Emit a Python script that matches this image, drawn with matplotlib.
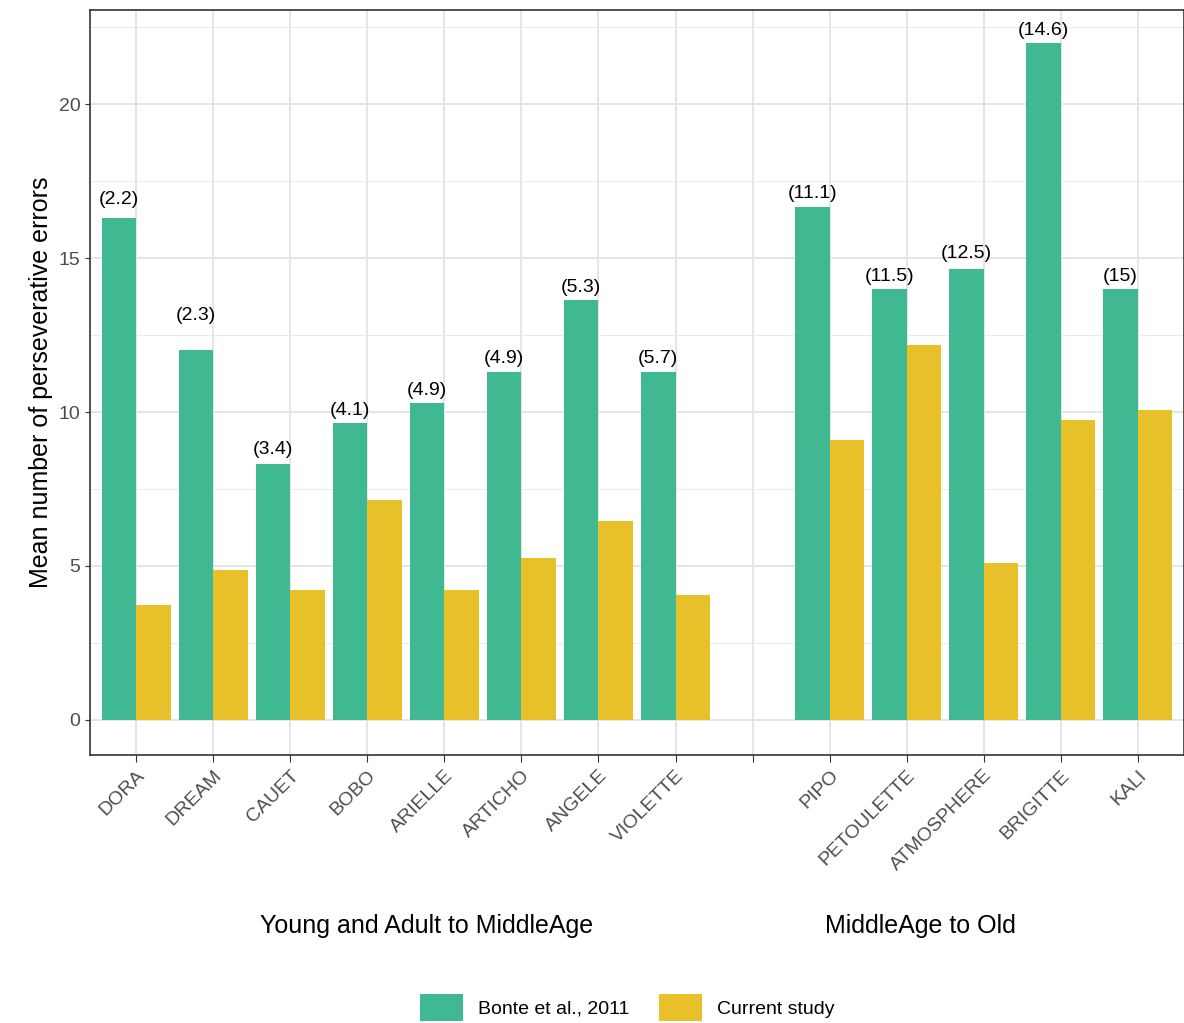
import numpy as np
import matplotlib.pyplot as plt
import matplotlib.transforms as mtransforms

plt.rcParams['font.family'] = ['Liberation Sans', 'DejaVu Sans']

names = ['DORA', 'DREAM', 'CAUET', 'BOBO', 'ARIELLE', 'ARTICHO', 'ANGELE', 'VIOLETTE', '',
         'PIPO', 'PETOULETTE', 'ATMOSPHERE', 'BRIGITTE', 'KALI']
bonte = [16.3, 12.0, 8.3, 9.65, 10.3, 11.3, 13.65, 11.3, np.nan, 16.65, 14.0, 14.65, 22.0, 14.0]
current = [3.73, 4.87, 4.22, 7.14, 4.22, 5.26, 6.45, 4.06, np.nan, 9.09, 12.17, 5.1, 9.74, 10.06]
age_labels = ['(2.2)', '(2.3)', '(3.4)', '(4.1)', '(4.9)', '(4.9)', '(5.3)', '(5.7)', '',
              '(11.1)', '(11.5)', '(12.5)', '(14.6)', '(15)']
label_y = [16.9, 13.15, 8.77, 10.06, 10.7, 11.75, 14.06, 11.75, np.nan, 17.1, 14.4, 15.16, 22.4, 14.4]

green = '#40b993'
yellow = '#e8c02a'

fig = plt.figure(figsize=(11.84, 10.23), dpi=100)
ax = fig.add_axes([0.076, 0.262, 0.924, 0.728])

x = np.arange(1, len(names) + 1)
w = 0.45
ax.bar(x - w / 2, bonte, width=w, color=green, label='Bonte et al., 2011', zorder=3)
ax.bar(x + w / 2, current, width=w, color=yellow, label='Current study', zorder=3)
for xi, t, ly in zip(x, age_labels, label_y):
    if t:
        ax.text(xi - w / 2, ly, t, ha='center', va='center', fontsize=14, zorder=4)

ax.set_xlim(0.4, 14.6)
ax.set_ylim(-1.14, 23.05)
ax.set_yticks([0, 5, 10, 15, 20])
ax.set_yticks([2.5, 7.5, 12.5, 17.5, 22.5], minor=True)
ax.set_xticks(x)
ax.set_xticklabels(names, rotation=45, ha='right', rotation_mode='anchor',
                   fontsize=14, color='#4d4d4d')
shift = mtransforms.ScaledTranslation(10 / 100, -4 / 100, fig.dpi_scale_trans)
for lab in ax.get_xticklabels():
    lab.set_transform(lab.get_transform() + shift)
ax.tick_params(axis='y', labelsize=14, labelcolor='#4d4d4d', color='#333333')
ax.tick_params(axis='y', which='minor', length=0)
ax.tick_params(axis='x', color='#333333', length=5)
ax.grid(which='major', color='#e5e5e5', lw=1.4, zorder=0)
ax.grid(which='minor', axis='y', color='#ebebeb', lw=0.7, zorder=0)
for s in ax.spines.values():
    s.set_color('#333333')
    s.set_linewidth(1.2)
ax.set_ylabel('Mean number of perseverative errors', fontsize=18)

fig.text(0.36, 0.095, 'Young and Adult to MiddleAge', ha='center', va='center', fontsize=18)
fig.text(0.777, 0.095, 'MiddleAge to Old', ha='center', va='center', fontsize=18)

fig.legend(loc='center', bbox_to_anchor=(0.53, 0.015), ncol=2, frameon=False,
           fontsize=14, handlelength=2.2, handleheight=1.8, columnspacing=1.5)

fig.savefig('out.png', dpi=100)
